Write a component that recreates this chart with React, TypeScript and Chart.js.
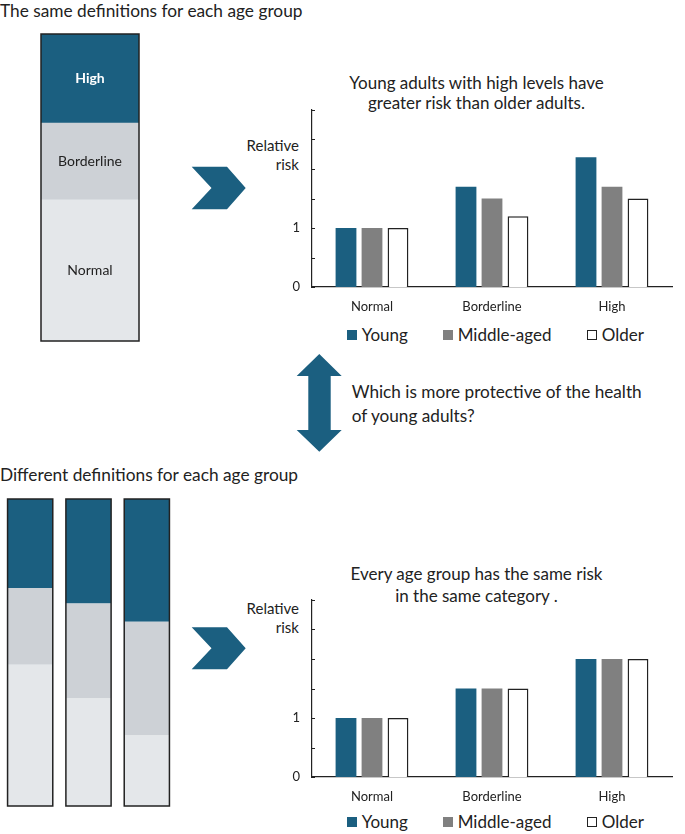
import React, { useEffect, useRef } from "react";
import { Chart, registerables } from "chart.js";

Chart.register(...registerables);

// ---------- data ----------
const riskCategories = ["Normal", "Borderline", "High"];
const ageGroups = ["Young", "Middle-aged", "Older"];

// Same definitions: relative risk per category
const sameYoung = [1.0, 1.7, 2.2];
const sameMiddle = [1.0, 1.5, 1.7];
const sameOlder = [1.0, 1.2, 1.5];

// Different definitions: relative risk per category
const diffYoung = [1.0, 1.5, 2.0];
const diffMiddle = [1.0, 1.5, 2.0];
const diffOlder = [1.0, 1.5, 2.0];

const riskMin = 0;
const riskMax = 3;
const riskStep = 0.5;
const riskLabeledTicks = ["0", "1"];

// Definition bands (share of level range, bottom to top)
const bandNames = ["Normal", "Borderline", "High"];
const sameDefNormal = [46];
const sameDefBorderline = [25];
const sameDefHigh = [29];
const diffDefNormal = [46, 35, 23];
const diffDefBorderline = [25, 31, 37];
const diffDefHigh = [29, 34, 40];

// ---------- style ----------
const TEAL = "#1b5f80";
const GRAY = "#808080";
const BAND_MID = "#cdd1d6";
const BAND_LOW = "#e4e7ea";
const INK = "#222222";
const FONT = "Lato, 'Open Sans', sans-serif";

const innerTicks = {
  id: "innerTicks",
  afterDraw(chart: any) {
    const y = chart.scales.y;
    if (!y) return;
    const ctx = chart.ctx;
    ctx.save();
    ctx.strokeStyle = INK;
    ctx.lineWidth = 1;
    y.ticks.forEach((t: any) => {
      const py = Math.round(y.getPixelForValue(t.value)) + 0.5;
      ctx.beginPath();
      ctx.moveTo(y.right, py);
      ctx.lineTo(y.right + 3, py);
      ctx.stroke();
    });
    ctx.restore();
  },
};

function RiskChart({ top, young, middle, older }: { top: number; young: number[]; middle: number[]; older: number[] }) {
  const ref = useRef<HTMLCanvasElement | null>(null);
  useEffect(() => {
    if (!ref.current) return;
    const chart = new Chart(ref.current, {
      type: "bar",
      data: {
        labels: riskCategories,
        datasets: [
          { label: ageGroups[0], data: young, backgroundColor: TEAL, borderWidth: 0 },
          { label: ageGroups[1], data: middle, backgroundColor: GRAY, borderWidth: 0 },
          { label: ageGroups[2], data: older, backgroundColor: "#ffffff", borderColor: INK, borderWidth: 1.5 },
        ],
      },
      options: {
        responsive: false,
        animation: false,
        devicePixelRatio: 1,
        layout: { padding: { top: 10, right: 10, left: 0, bottom: 0 } },
        datasets: { bar: { barPercentage: 0.8, categoryPercentage: 0.65 } },
        plugins: { legend: { display: false }, tooltip: { enabled: false } },
        scales: {
          x: {
            grid: { display: false, drawTicks: false },
            border: { display: true, color: INK, width: 1.2 },
            ticks: { padding: 12, color: INK, font: { family: FONT, size: 13 } },
            afterFit: (s: any) => { s.height = 30; s.paddingLeft = 0; s.paddingRight = 0; },
          },
          y: {
            min: riskMin,
            max: riskMax,
            grid: { display: false, drawTicks: false },
            border: { display: true, color: INK, width: 1.2 },
            ticks: {
              stepSize: riskStep,
              padding: 12,
              color: INK,
              font: { family: FONT, size: 13 },
              callback: (v: any) => (riskLabeledTicks.includes(String(v)) ? String(v) : ""),
            },
            afterFit: (s: any) => { s.width = 50; s.paddingTop = 0; s.paddingBottom = 0; },
          },
        },
      } as any,
      plugins: [innerTicks],
    });
    return () => chart.destroy();
  }, []);
  return (
    <canvas
      ref={ref}
      width={420}
      height={217}
      style={{ position: "absolute", left: 262, top, width: 420, height: 217 }}
    />
  );
}

const bandDecor = {
  id: "bandDecor",
  afterDatasetsDraw(chart: any, _args: any, opts: any) {
    const ctx = chart.ctx;
    const n = chart.data.datasets.length;
    const bottomMeta = chart.getDatasetMeta(0);
    const topMeta = chart.getDatasetMeta(n - 1);
    ctx.save();
    if (opts.showLabels) {
      for (let d = 0; d < n; d++) {
        const meta = chart.getDatasetMeta(d);
        meta.data.forEach((el: any) => {
          const cy = (el.y + el.base) / 2;
          const isHigh = d === n - 1;
          ctx.fillStyle = isHigh ? "#ffffff" : INK;
          ctx.font = `${isHigh ? "bold " : ""}14px ${FONT}`;
          ctx.textAlign = "center";
          ctx.textBaseline = "middle";
          ctx.fillText(chart.data.datasets[d].label, el.x, cy);
        });
      }
    }
    ctx.strokeStyle = INK;
    ctx.lineWidth = 1.5;
    bottomMeta.data.forEach((el: any, i: number) => {
      const t = topMeta.data[i];
      const left = el.x - el.width / 2;
      ctx.strokeRect(left, t.y, el.width, el.base - t.y);
    });
    ctx.restore();
  },
};

function DefinitionChart({ left, top, width, height, normal, borderline, high, barPct, showLabels }: any) {
  const ref = useRef<HTMLCanvasElement | null>(null);
  useEffect(() => {
    if (!ref.current) return;
    const chart = new Chart(ref.current, {
      type: "bar",
      data: {
        labels: normal.map((_: number, i: number) => String(i)),
        datasets: [
          { label: bandNames[0], data: normal, backgroundColor: BAND_LOW, borderWidth: 0 },
          { label: bandNames[1], data: borderline, backgroundColor: BAND_MID, borderWidth: 0 },
          { label: bandNames[2], data: high, backgroundColor: TEAL, borderWidth: 0 },
        ],
      },
      options: {
        responsive: false,
        animation: false,
        devicePixelRatio: 1,
        layout: { padding: { top: 1, bottom: 1, left: 1, right: 1 } },
        datasets: { bar: { barPercentage: barPct, categoryPercentage: 1 } },
        plugins: { legend: { display: false }, tooltip: { enabled: false }, bandDecor: { showLabels } },
        scales: {
          x: { display: false, stacked: true },
          y: { display: false, stacked: true, min: 0, max: 100 },
        },
      } as any,
      plugins: [bandDecor],
    });
    return () => chart.destroy();
  }, []);
  return (
    <canvas
      ref={ref}
      width={width}
      height={height}
      style={{ position: "absolute", left, top, width, height }}
    />
  );
}

function Text({ x, y, children, size = 17, align = "left", weight = 400 }: any) {
  const tx = align === "center" ? "-50%" : align === "right" ? "-100%" : "0";
  return (
    <div
      style={{
        position: "absolute",
        left: x,
        top: y,
        transform: `translate(${tx}, -50%)`,
        whiteSpace: "nowrap",
        fontFamily: FONT,
        fontSize: size,
        fontWeight: weight,
        color: INK,
        lineHeight: 1.2,
      }}
    >
      {children}
    </div>
  );
}

function Legend({ y }: { y: number }) {
  const items = [
    { x: 346.7, fill: TEAL, border: TEAL, label: ageGroups[0] },
    { x: 442.7, fill: GRAY, border: GRAY, label: ageGroups[1] },
    { x: 586.7, fill: "#ffffff", border: INK, label: ageGroups[2] },
  ];
  return (
    <>
      {items.map((it) => (
        <React.Fragment key={it.label}>
          <div
            style={{
              position: "absolute",
              left: it.x,
              top: y - 5,
              width: 10,
              height: 10,
              boxSizing: "border-box",
              background: it.fill,
              border: `1px solid ${it.border}`,
            }}
          />
          <Text x={it.x + 15} y={y} size={17}>{it.label}</Text>
        </React.Fragment>
      ))}
    </>
  );
}

function Arrows() {
  const chevron = (y0: number, y1: number) => {
    const ym = (y0 + y1) / 2;
    return `191.7,${y0} 227,${y0} 245.7,${ym} 227,${y1} 191.7,${y1} 211.5,${ym}`;
  };
  const dbl = "319.3,354 341.7,376 330.7,376 330.7,430 341.7,430 319.3,451.7 296.7,430 308.3,430 308.3,376 296.7,376";
  return (
    <svg width={685} height={834} style={{ position: "absolute", left: 0, top: 0, pointerEvents: "none" }}>
      <polygon points={chevron(166.7, 209.3)} fill={TEAL} />
      <polygon points={chevron(627.3, 669.3)} fill={TEAL} />
      <polygon points={dbl} fill={TEAL} />
    </svg>
  );
}

export default function App() {
  return (
    <div style={{ position: "absolute", left: 0, top: 0, width: 685, height: 834, background: "#ffffff", overflow: "hidden" }}>
      <Arrows />
      <Text x={0} y={11} size={17.3}>The same definitions for each age group</Text>
      <DefinitionChart left={40} top={33} width={100} height={309}
        normal={sameDefNormal} borderline={sameDefBorderline} high={sameDefHigh} barPct={1} showLabels={true} />

      <Text x={476.5} y={83} size={17} align="center">Young adults with high levels have</Text>
      <Text x={476.5} y={103} size={17} align="center">greater risk than older adults.</Text>
      <Text x={299} y={145} size={15} align="right">Relative</Text>
      <Text x={299} y={164} size={15} align="right">risk</Text>
      <RiskChart top={100} young={sameYoung} middle={sameMiddle} older={sameOlder} />
      <Legend y={335} />

      <Text x={351.7} y={392} size={17.2}>Which is more protective of the health</Text>
      <Text x={351.7} y={416} size={17.2}>of young adults?</Text>

      <Text x={0} y={475} size={17.3}>Different definitions for each age group</Text>
      <DefinitionChart left={0} top={498} width={177} height={309}
        normal={diffDefNormal} borderline={diffDefBorderline} high={diffDefHigh} barPct={0.775} showLabels={false} />

      <Text x={476.5} y={574} size={17} align="center">Every age group has the same risk</Text>
      <Text x={476.5} y={596} size={17} align="center">in the same category .</Text>
      <Text x={299} y={608} size={15} align="right">Relative</Text>
      <Text x={299} y={627} size={15} align="right">risk</Text>
      <RiskChart top={590} young={diffYoung} middle={diffMiddle} older={diffOlder} />
      <Legend y={822} />
    </div>
  );
}
